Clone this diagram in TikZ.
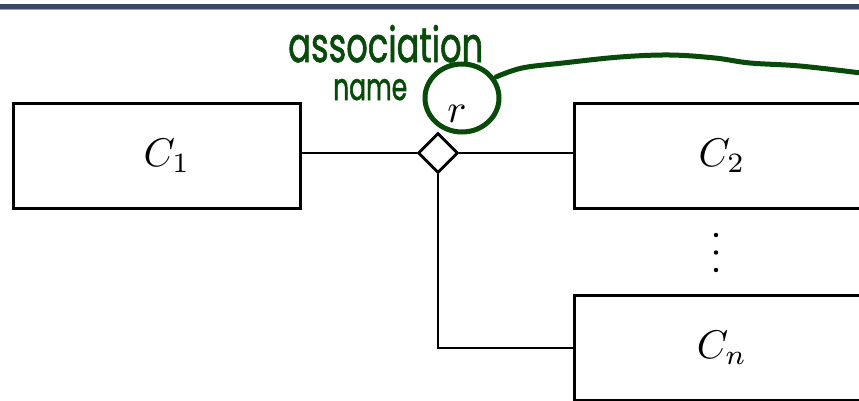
\documentclass[tikz,border=0pt]{standalone}
\usepackage{fontspec}
\usepackage{graphicx}
\newfontfamily\handfont[FakeBold=1.6]{Poppins}
\usetikzlibrary{shapes.geometric}
\definecolor{barblue}{RGB}{60,72,102}
\definecolor{barlight}{RGB}{150,162,184}
\definecolor{penGreen}{RGB}{8,74,10}
\newcommand{\bigmath}[1]{\scalebox{4}{$#1$}}
\tikzset{
  classbox/.style={draw, line width=3.2pt, minimum width=287pt, minimum height=105pt, anchor=north west, inner sep=0pt},
  classlabel/.style={inner sep=0pt},
  conn/.style={line width=2.2pt},
  assoc/.style={draw, diamond, line width=2.8pt, fill=white, minimum width=40pt, minimum height=40pt, inner sep=0pt, aspect=1},
  pen/.style={draw=penGreen, line width=5pt, line cap=round},
  handtext/.style={text=penGreen, inner sep=0pt},
}
\begin{document}
\begin{tikzpicture}[x=1pt, y=-1pt]
\useasboundingbox (0,0) rectangle (859,400);
\fill[barblue] (0,4) rectangle (859,9);
\fill[barlight] (0,9) rectangle (859,10.3);
% classes
\node[classbox] (c1) at (12,102) {};
\node[classbox] (c2) at (573,102) {};
\node[classbox] (cn) at (573,294) {};
\node[classlabel] (c1t) at (167,156) {\bigmath{C_1}};
\node[classlabel] (c2t) at (722,156) {\bigmath{C_2}};
\node[classlabel] (cnt) at (722,348) {\bigmath{C_n}};
% association
\node[assoc] (d) at (438,153) {};
\node[classlabel, anchor=base] (r) at (457,122) {\bigmath{r}};
\draw[conn] (c1.east |- d.west) -- (d.west);
\draw[conn] (d.east) -- (c2.west |- d.east);
\coordinate (bend) at (d.south |- cn.west);
\draw[conn] (d.south) -- (bend) -- (cn.west);
% vdots
\fill (716,235) circle (2.2);
\fill (716,252.5) circle (2.2);
\fill (716,270) circle (2.2);
% annotation
\node[handtext, anchor=base west] (t1) at (288,62) {\resizebox{195pt}{37pt}{\handfont association}};
\node[handtext, anchor=base west] (t2) at (333,100) {\resizebox{74pt}{21pt}{\handfont name}};
\draw[pen] (462,98) ellipse (37 and 34);
\coordinate (start) at (496,77);
\coordinate (tail) at (861,73);
\draw[pen] plot[smooth, tension=0.6] coordinates {(start) (522,68) (563,63) (620,57) (670,55) (715,58) (750,63) (800,66) (tail)};
\end{tikzpicture}
\end{document}
